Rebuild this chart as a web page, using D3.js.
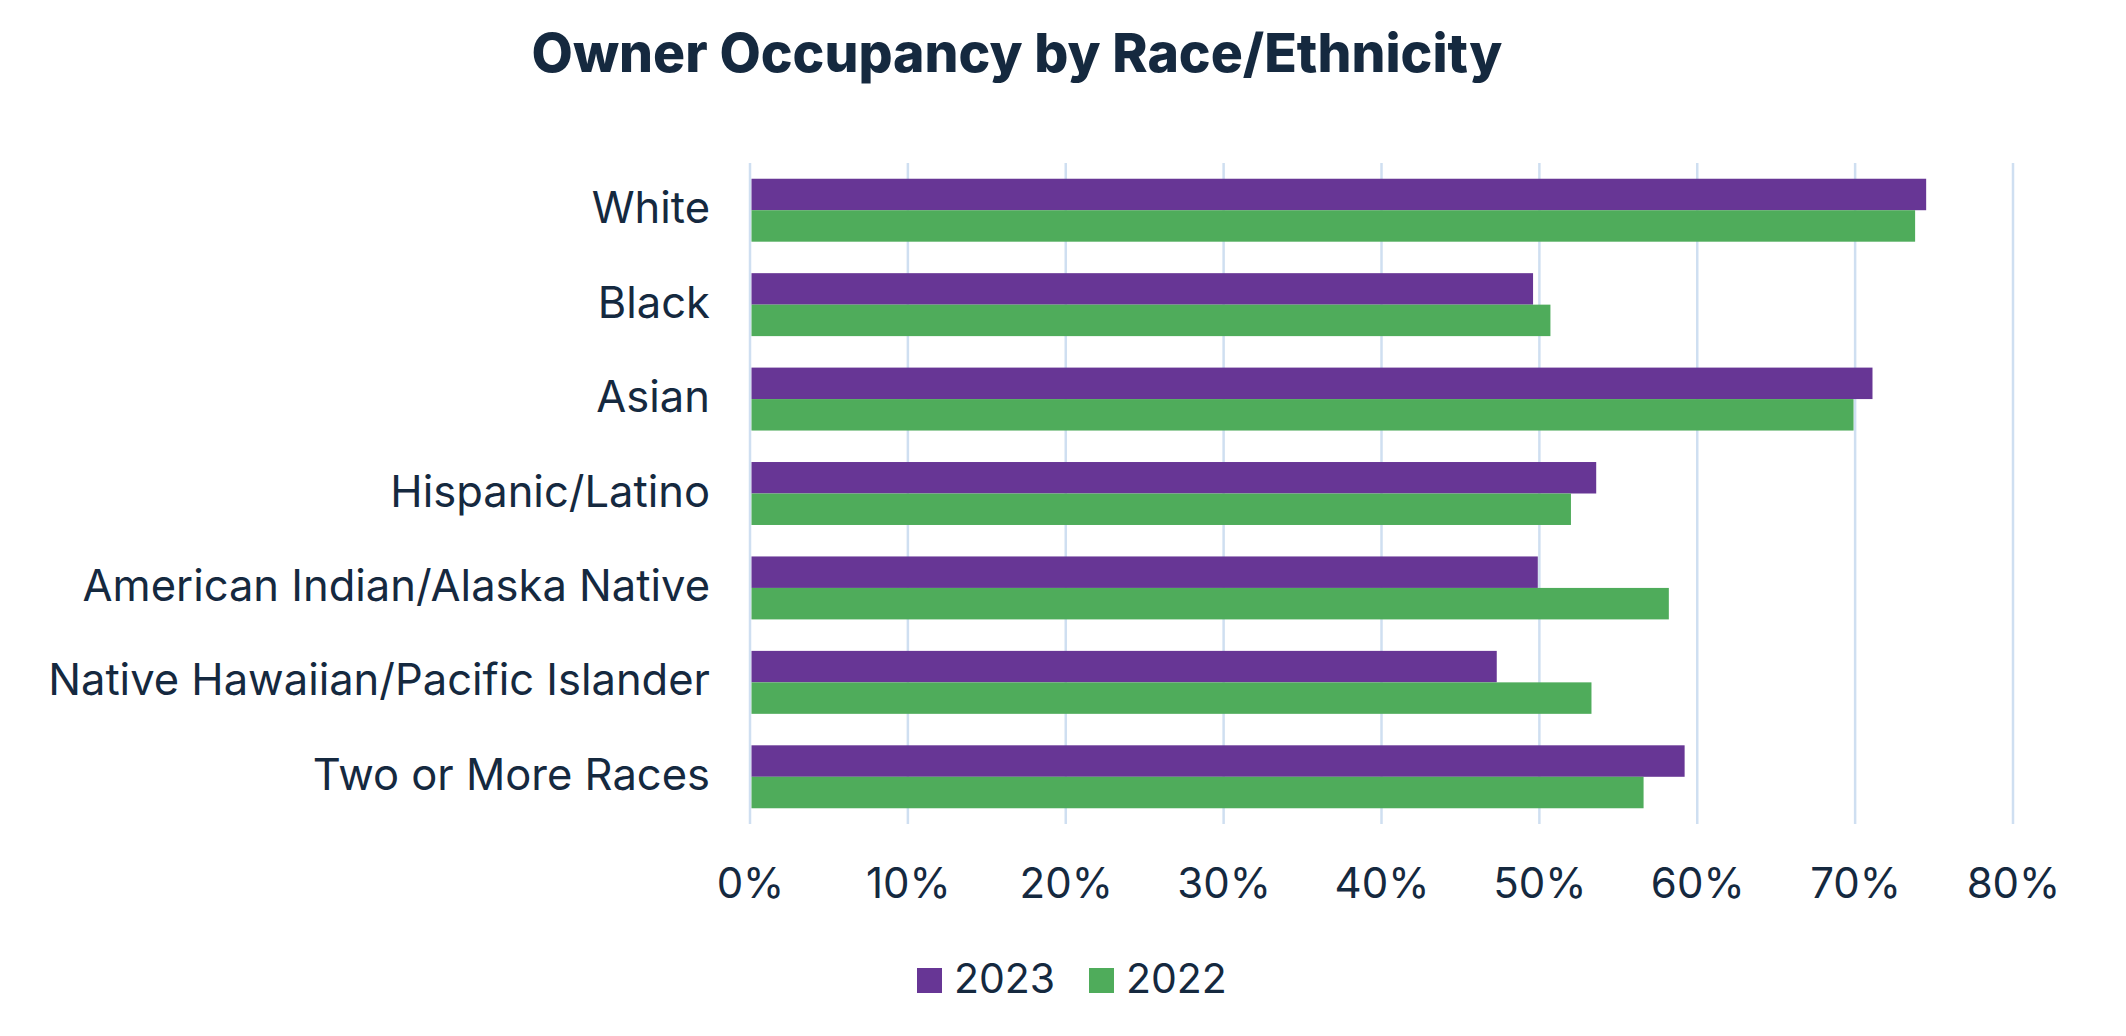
<!DOCTYPE html>
<html>
<head>
<meta charset="utf-8">
<script src="https://cdn.jsdelivr.net/npm/d3@7"></script>
<style>
  html, body { margin: 0; padding: 0; background: #ffffff; }
  svg { display: block; }
</style>
</head>
<body>
<svg id="chart" width="2126" height="1036"></svg>
<script>
const categories = ["White", "Black", "Asian", "Hispanic/Latino", "American Indian/Alaska Native", "Native Hawaiian/Pacific Islander", "Two or More Races"];
const seriesNames = ["2023", "2022"];
const values2023 = [0.745, 0.496, 0.711, 0.536, 0.499, 0.473, 0.592];
const values2022 = [0.738, 0.507, 0.699, 0.520, 0.582, 0.533, 0.566];
const xTicks = [0, 0.1, 0.2, 0.3, 0.4, 0.5, 0.6, 0.7, 0.8];
const titleText = "Owner Occupancy by Race/Ethnicity";

const colors = { "2023": "#673695", "2022": "#4fac5b" };
const textColor = "#15293f";
const gridColor = "#cfdff1";
const fontFamily = "Inter, 'Noto Sans', sans-serif";

const svg = d3.select("#chart");
const plot = { left: 750, right: 2013, top: 163, bottom: 824 };

const x = d3.scaleLinear().domain([0, 0.8]).range([plot.left, plot.right]);
const y = d3.scaleBand().domain(categories).range([plot.top, plot.bottom])
  .paddingInner(1/3).paddingOuter(1/6);
const ySub = d3.scaleBand().domain(seriesNames).range([0, y.bandwidth()]);

const data = categories.map((c, i) => ({ cat: c, "2023": values2023[i], "2022": values2022[i] }));

// Gridlines
svg.append("g").selectAll("line").data(xTicks).join("line")
  .attr("x1", d => x(d)).attr("x2", d => x(d))
  .attr("y1", plot.top).attr("y2", plot.bottom)
  .attr("stroke", gridColor).attr("stroke-width", 2.5);

// Bars
const groups = svg.append("g").selectAll("g").data(data).join("g")
  .attr("transform", d => `translate(0,${y(d.cat)})`);
groups.selectAll("rect").data(d => seriesNames.map(s => ({ s, v: d[s] }))).join("rect")
  .attr("x", x(0) + 1.5)
  .attr("y", d => ySub(d.s))
  .attr("width", d => x(d.v) - x(0) - 1.5)
  .attr("height", ySub.bandwidth())
  .attr("fill", d => colors[d.s]);

// X axis labels
const xAxis = d3.axisBottom(x).tickValues(xTicks).tickFormat(d3.format(".0%")).tickSize(0).tickPadding(0);
const xg = svg.append("g").attr("transform", `translate(0,${plot.bottom})`).call(xAxis);
xg.select(".domain").remove();
xg.selectAll("text")
  .attr("y", 74).attr("dy", 0)
  .attr("fill", textColor)
  .style("font-family", fontFamily).style("font-size", "42px");

// Y axis labels
const yAxis = d3.axisLeft(y).tickSize(0).tickPadding(40);
const yg = svg.append("g").attr("transform", `translate(${plot.left},0)`).call(yAxis);
yg.select(".domain").remove();
yg.selectAll("text")
  .attr("fill", textColor)
  .attr("dy", "0.3em")
  .style("font-family", fontFamily).style("font-size", "43.5px");

// Title
svg.append("text")
  .attr("x", 1017).attr("y", 72)
  .attr("text-anchor", "middle")
  .attr("fill", textColor)
  .style("font-family", fontFamily).style("font-weight", 800).style("font-size", "53.5px")
  .text(titleText);

// Legend
const legend = svg.append("g");
const legendY = 968, sq = 25;
const legendStarts = { "2023": 917, "2022": 1089 };
seriesNames.forEach(s => {
  const g = legend.append("g").attr("transform", `translate(${legendStarts[s]},${legendY})`);
  g.append("rect").attr("width", sq).attr("height", sq).attr("fill", colors[s]);
  g.append("text").attr("x", sq + 12).attr("y", sq)
    .attr("fill", textColor)
    .style("font-family", fontFamily).style("font-size", "41px")
    .text(s);
});
</script>
</body>
</html>
